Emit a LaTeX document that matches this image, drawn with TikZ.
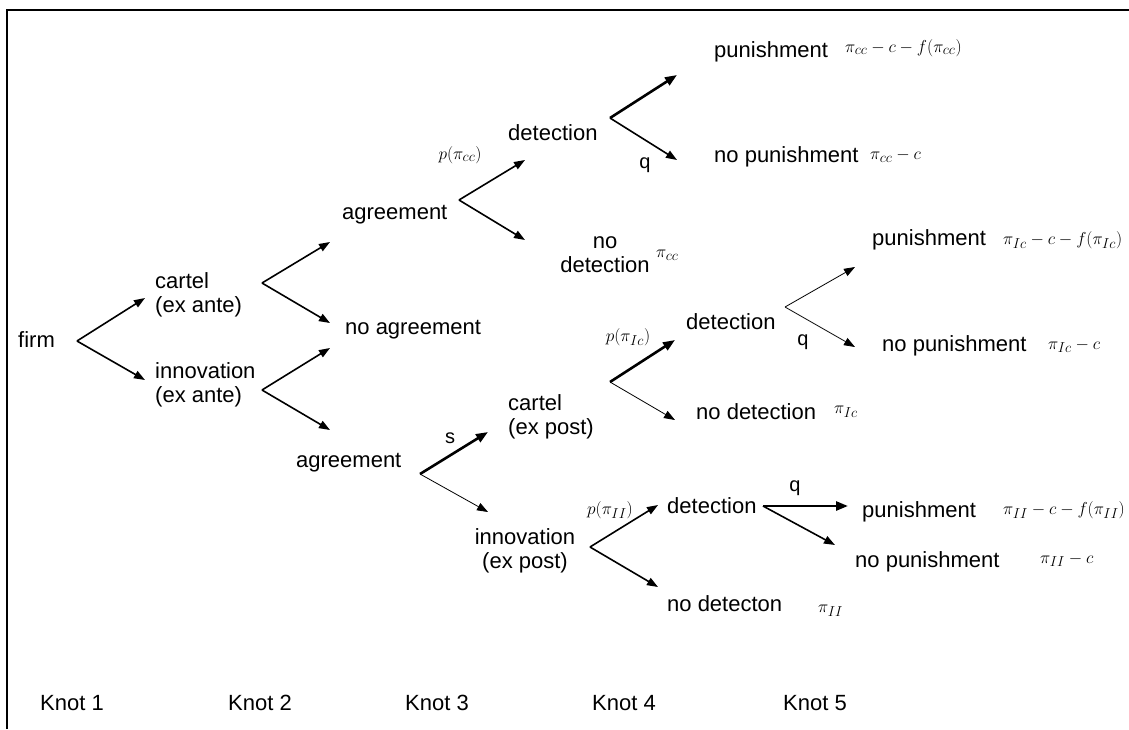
\documentclass[tikz,border=0pt]{standalone}
\usepackage{fontspec}
\setmainfont{Liberation Sans}
\usetikzlibrary{arrows.meta}
\begin{document}
\begin{tikzpicture}[x=1pt,y=-1pt,
  txt/.style={inner sep=0pt, anchor=west, font=\fontsize{22}{24}\selectfont},
  ctxt/.style={inner sep=0pt, align=center, font=\fontsize{22}{24}\selectfont},
  pay/.style={inner sep=0pt, anchor=west, font=\fontsize{19}{20}\selectfont},
  lab/.style={inner sep=0pt, font=\fontsize{20}{22}\selectfont},
  brarrow/.style={line width=1.6pt, -{Triangle[length=11pt,width=8pt]}},
  lightarrow/.style={line width=0.8pt, -{Triangle[length=11pt,width=8pt]}},
  heavyarrow/.style={line width=2.6pt, -{Triangle[length=12pt,width=9pt]}}
]
\useasboundingbox (0,0) rectangle (1129,729);
% frame
\draw[line width=2pt] (7,729) -- (7,10) -- (1129,10);

% nodes
\node[txt] (firm) at (18,340) {firm};
\node[txt, align=left] (cea) at (155,295) {cartel\\(ex ante)};
\node[txt, align=left] (iea) at (155,385) {innovation\\(ex ante)};
\node[txt] (agr1) at (342,215) {agreement};
\node[txt] (noagr) at (345,330) {no agreement};
\node[txt] (agr2) at (296,463) {agreement};
\node[txt] (det1) at (508,133) {detection};
\node[ctxt] (nodet1) at (605,255) {no\\detection};
\node[pay] (p-nodet1) at (656,255) {$\pi_{cc}$};
\node[txt] (pun1) at (714,52) {punishment};
\node[pay] (p-pun1) at (845,48) {$\pi_{cc}-c-f(\pi_{cc})$};
\node[txt] (nopun1) at (714,157) {no punishment};
\node[pay] (p-nopun1) at (870,156) {$\pi_{cc}-c$};
\node[txt, align=left] (cep) at (508,417) {cartel\\(ex post)};
\node[ctxt] (iep) at (525,551) {innovation\\(ex post)};
\node[txt] (det2) at (686,322) {detection};
\node[txt] (nodet2) at (696,412) {no detection};
\node[pay] (p-nodet2) at (834,412) {$\pi_{Ic}$};
\node[txt] (pun2) at (872,240) {punishment};
\node[pay] (p-pun2) at (1003,240) {$\pi_{Ic}-c-f(\pi_{Ic})$};
\node[txt] (nopun2) at (882,346) {no punishment};
\node[pay] (p-nopun2) at (1048,346) {$\pi_{Ic}-c$};
\node[txt] (det3) at (667,506) {detection};
\node[txt] (nodet3) at (667,604) {no detecton};
\node[pay] (p-nodet3) at (818,611) {$\pi_{II}$};
\node[txt] (pun3) at (862,512) {punishment};
\node[pay] (p-pun3) at (1003,510) {$\pi_{II}-c-f(\pi_{II})$};
\node[txt] (nopun3) at (855,562) {no punishment};
\node[pay] (p-nopun3) at (1040,560) {$\pi_{II}-c$};

% edge labels
\node[pay, anchor=center] (l-pcc) at (460,155) {$p(\pi_{cc})$};
\node[lab] (l-q1) at (645,165) {q};
\node[lab] (l-s) at (450,438) {s};
\node[pay, anchor=center] (l-pic) at (628,337) {$p(\pi_{Ic})$};
\node[lab] (l-q2) at (803,342) {q};
\node[pay, anchor=center] (l-pii) at (610,510) {$p(\pi_{II})$};
\node[lab] (l-q3) at (795,488) {q};

% knots
\node[txt] (k1) at (40,703) {Knot 1};
\node[txt] (k2) at (228,703) {Knot 2};
\node[txt] (k3) at (405,703) {Knot 3};
\node[txt] (k4) at (592,703) {Knot 4};
\node[txt] (k5) at (783,703) {Knot 5};

% branch points and arrow ends
\coordinate (v-firm) at (77,341);
\coordinate (t-cea) at (145,298);
\coordinate (t-iea) at (145,380);
\coordinate (v-cea) at (262,283);
\coordinate (t-agr1) at (330,242);
\coordinate (t-noagr1) at (330,323);
\coordinate (v-iea) at (262,390);
\coordinate (t-noagr2) at (330,348);
\coordinate (t-agr2) at (330,430);
\coordinate (v-agr1) at (459,200);
\coordinate (t-det1) at (525,160);
\coordinate (t-nodet1) at (525,240);
\coordinate (v-det1) at (610,118);
\coordinate (t-pun1) at (677,75);
\coordinate (t-nopun1) at (677,160);
\coordinate (v-agr2) at (420,474);
\coordinate (t-cep) at (488,432);
\coordinate (t-iep) at (488,512);
\coordinate (v-cep) at (610,382);
\coordinate (t-det2) at (675,340);
\coordinate (t-nodet2) at (675,420);
\coordinate (v-det2) at (785,307);
\coordinate (t-pun2) at (855,267);
\coordinate (t-nopun2) at (855,347);
\coordinate (v-iep) at (590,547);
\coordinate (t-det3) at (658,505);
\coordinate (t-nodet3) at (658,587);
\coordinate (v-det3) at (763,506);
\coordinate (t-pun3) at (848,506);
\coordinate (t-nopun3) at (835,545);

% arrows
\draw[brarrow] (v-firm) -- (t-cea);
\draw[brarrow] (v-firm) -- (t-iea);
\draw[brarrow] (v-cea) -- (t-agr1);
\draw[brarrow] (v-cea) -- (t-noagr1);
\draw[brarrow] (v-iea) -- (t-noagr2);
\draw[brarrow] (v-iea) -- (t-agr2);
\draw[brarrow] (v-agr1) -- (t-det1);
\draw[brarrow] (v-agr1) -- (t-nodet1);
\draw[heavyarrow] (v-det1) -- (t-pun1);
\draw[brarrow] (v-det1) -- (t-nopun1);
\draw[heavyarrow] (v-agr2) -- (t-cep);
\draw[lightarrow] (v-agr2) -- (t-iep);
\draw[heavyarrow] (v-cep) -- (t-det2);
\draw[lightarrow] (v-cep) -- (t-nodet2);
\draw[lightarrow] (v-det2) -- (t-pun2);
\draw[lightarrow] (v-det2) -- (t-nopun2);
\draw[brarrow] (v-iep) -- (t-det3);
\draw[brarrow] (v-iep) -- (t-nodet3);
\draw[heavyarrow] (v-det3) -- (t-pun3);
\draw[brarrow] (v-det3) -- (t-nopun3);
\end{tikzpicture}
\end{document}
